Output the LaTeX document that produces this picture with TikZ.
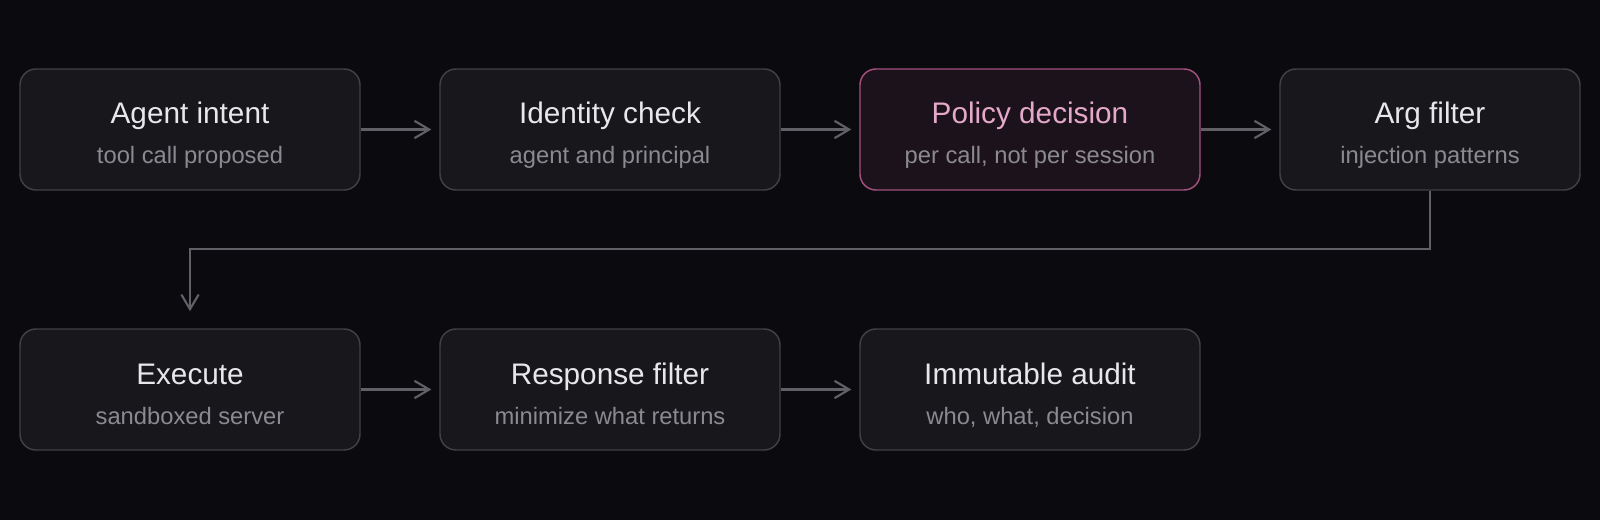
\documentclass[tikz,border=0pt]{standalone}
\usepackage{fontspec}
\setmainfont{Liberation Sans}
\usepackage{tikz}
\usetikzlibrary{arrows.meta}
\usetikzlibrary{positioning}

\definecolor{bgcol}{HTML}{0B0B0F}
\definecolor{boxfill}{HTML}{18171C}
\definecolor{boxline}{HTML}{404045}
\definecolor{titlecol}{HTML}{E8E8EA}
\definecolor{subcol}{HTML}{8B8A90}
\definecolor{hotfill}{HTML}{1C121C}
\definecolor{hotline}{HTML}{A3507E}
\definecolor{hottitle}{HTML}{E4A8C9}
\definecolor{linkcol}{HTML}{616066}

\tikzset{
    stage/.style={draw=boxline, fill=boxfill, line width=1.1pt, rounded corners=12pt,
        minimum width=255pt, minimum height=90.75pt, inner sep=0pt},
    hotstage/.style={stage, draw=hotline, fill=hotfill},
    title/.style={anchor=base, text=titlecol, font=\fontsize{22.3}{26}\selectfont},
    sub/.style={anchor=base, text=subcol, font=\fontsize{17.8}{21}\selectfont},
    flow/.style={draw=linkcol, line width=1.6pt,
        -{Straight Barb[length=11pt,width=13pt,line width=1.6pt]}, shorten >=6pt}
}

\begin{document}
\begin{tikzpicture}[x=0.75pt, y=-0.75pt]

    % Background
    \fill[bgcol] (0,0) rectangle (1600,520);
    \useasboundingbox (0,0) rectangle (1600,520);

    % Top row
    \foreach \name/\x/\w/\head/\note in {
        intent/190/255/Agent intent/tool call proposed,
        identity/610/255/Identity check/agent and principal,
        argfilter/1430/225/Arg filter/injection patterns} {
        \node[stage, minimum width=\w pt] (\name) at (\x,129.5) {};
        \node[title] (\name-title) at (\x,124) {\head};
        \node[sub] (\name-sub) at (\x,164) {\note};
    }

    % Policy decision (highlighted)
    \node[hotstage] (policy) at (1030,129.5) {};
    \node[title, text=hottitle] (policy-title) at (1030,124) {Policy decision};
    \node[sub] (policy-sub) at (1030,164) {per call, not per session};

    % Bottom row
    \foreach \name/\x/\head/\note in {
        execute/190/Execute/sandboxed server,
        respfilter/610/Response filter/minimize what returns,
        audit/1030/Immutable audit/{who, what, decision}} {
        \node[stage] (\name) at (\x,389.5) {};
        \node[title] (\name-title) at (\x,384) {\head};
        \node[sub] (\name-sub) at (\x,424) {\note};
    }

    % Connectors
    \draw[flow] (intent) -- (identity);
    \draw[flow] (identity) -- (policy);
    \draw[flow] (policy) -- (argfilter);

    \coordinate (turn) at (190,249);
    \draw[flow, shorten >=12.75pt] (argfilter.south) |- (turn) -- (execute.north);

    \draw[flow] (execute) -- (respfilter);
    \draw[flow] (respfilter) -- (audit);

\end{tikzpicture}
\end{document}
